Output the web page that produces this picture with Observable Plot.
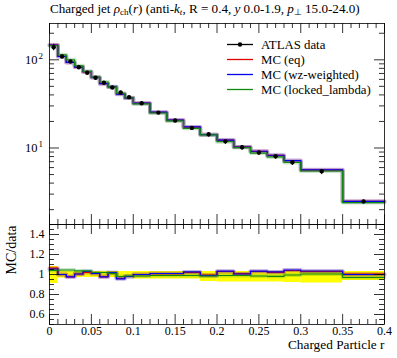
<!DOCTYPE html>
<html><head><meta charset="utf-8">
<script src="https://cdn.jsdelivr.net/npm/d3@7"></script>
<script src="https://cdn.jsdelivr.net/npm/@observablehq/plot@0.6"></script>
<style>
body{margin:0;background:#fff;}
#wrap{position:relative;width:397px;height:358px;font-family:"Liberation Serif",serif;color:#000;overflow:hidden}
#wrap > svg, #wrap > div.plotbox{position:absolute;left:0}
.title{position:absolute;left:50px;top:1px;font-size:13.1px;white-space:nowrap;line-height:16px}
.title sub{font-size:9px;vertical-align:-2px;line-height:0}
</style></head><body><div id="wrap"></div><script>
// ---- data ----
const edges = [0,0.01,0.02,0.03,0.04,0.05,0.06,0.07,0.08,0.09,0.1,0.12,0.14,0.16,0.18,0.2,0.22,0.24,0.26,0.28,0.3,0.35,0.4];
const atlasData = [139,109,95.7,82.4,71.3,62.5,54.9,48.5,42.6,37.7,32.2,25.2,20.5,16.9,14.3,11.9,10.2,8.89,8.07,6.90,5.46,2.48];
const bandLo = [0.91,0.965,0.97,0.97,0.97,0.97,0.97,0.97,0.97,0.97,0.955,0.955,0.955,0.955,0.93,0.925,0.925,0.925,0.925,0.92,0.915,0.94];
const bandHi = [1.08,1.035,1.03,1.03,1.03,1.03,1.03,1.03,1.03,1.03,1.03,1.03,1.03,1.03,1.03,1.03,1.03,1.03,1.03,1.035,1.035,1.03];
const ratioEq = [1.064,1.0,0.977,1.005,1.02,1.01,0.977,1.015,0.962,0.98,1.0,1.008,1.008,1.02,0.995,1.03,1.008,1.03,1.022,1.04,1.03,1.003];
const ratioWz = [1.055,1.0,0.977,1.005,1.03,1.01,0.977,1.02,0.957,0.98,1.0,1.01,1.01,1.026,0.99,1.033,1.005,1.033,1.026,1.045,1.035,1.0];
const ratioLocked = [1.04,1.045,1.045,1.036,1.036,1.02,1.02,1.012,0.98,0.985,0.985,0.99,0.99,0.99,0.985,0.99,0.99,0.985,0.982,0.995,1.005,0.97];
const seriesNames = ["MC (eq)","MC (wz-weighted)","MC (locked_lambda)"];
const seriesColors = ["#e00000","#0000ee","#108a10"];
const xMajor = [0,0.05,0.1,0.15,0.2,0.25,0.3,0.35,0.4];
const xMinor = [0.01,0.02,0.03,0.04,0.06,0.07,0.08,0.09,0.11,0.12,0.13,0.14,0.16,0.17,0.18,0.19,0.21,0.22,0.23,0.24,0.26,0.27,0.28,0.29,0.31,0.32,0.33,0.34,0.36,0.37,0.38,0.39];
const xLabels = ["0","0.05","0.1","0.15","0.2","0.25","0.3","0.35","0.4"];
const yMainMajor = [10,100];
const yMainExp = ["1","2"];
const yMainMinor = [2,3,4,5,6,7,8,9,20,30,40,50,60,70,80,90,200];
const yRatioMajor = [0.6,0.8,1.0,1.2,1.4];
const yRatioLabels = ["0.6","0.8","1","1.2","1.4"];
const yRatioMinor = [0.5,0.55,0.65,0.7,0.75,0.85,0.9,0.95,1.05,1.1,1.15,1.25,1.3,1.35,1.45,1.5];

// ---- layout ----
const W=397, ML=49, MR=13, FW=W-ML-MR;
const mainH=224, mainTop=23, mainFH=mainH-mainTop;
const ratH=134, ratBottom=34, ratFH=ratH-ratBottom;
const FONT="Liberation Serif";

const idx = atlasData.map((_,i)=>i);
const centers = idx.map(i=>(edges[i]+edges[i+1])/2);
const ratios = [ratioEq, ratioWz, ratioLocked];
function steps(vals){ return edges.map((e,i)=>({x:e, y: vals[Math.min(i, vals.length-1)]})); }
const mcMain = ratios.map(r => r.map((v,i)=>v*atlasData[i]));

function tickMarks(FH, yMaj, yMin){
  const m=[];
  for (const [arr,len] of [[xMajor,10],[xMinor,5]]) {
    m.push(Plot.tickX(arr,{x:d=>d, insetTop:FH-len, stroke:"#000", strokeWidth:0.8}));
    m.push(Plot.tickX(arr,{x:d=>d, insetBottom:FH-len, stroke:"#000", strokeWidth:0.8}));
  }
  for (const [arr,len] of [[yMaj,10],[yMin,5]]) {
    m.push(Plot.tickY(arr,{y:d=>d, insetRight:FW-len, stroke:"#000", strokeWidth:0.8}));
    m.push(Plot.tickY(arr,{y:d=>d, insetLeft:FW-len, stroke:"#000", strokeWidth:0.8}));
  }
  return m;
}
function mcLines(arrs){
  const m=[];
  arrs.forEach((vals,k)=>{
    m.push(Plot.line(steps(vals),{x:"x",y:"y",curve:"step-after",stroke:seriesColors[k],strokeWidth:4,strokeOpacity:0.22}));
  });
  arrs.forEach((vals,k)=>{
    m.push(Plot.line(steps(vals),{x:"x",y:"y",curve:"step-after",stroke:seriesColors[k],strokeWidth:1.2}));
  });
  return m;
}

const main = Plot.plot({
  width:W, height:mainH, marginLeft:ML, marginRight:MR, marginTop:mainTop, marginBottom:0,
  style:{fontFamily:FONT, fontSize:"11px", background:"transparent", overflow:"visible"},
  x:{domain:[0,0.4], axis:null},
  y:{type:"log", domain:[1.357,258], axis:null},
  marks:[
    ...mcLines(mcMain),
    Plot.ruleX(idx,{x:i=>centers[i], y1:i=>atlasData[i]*bandLo[i], y2:i=>atlasData[i]*bandHi[i], stroke:"#000", strokeWidth:1}),
    Plot.dot(idx,{x:i=>centers[i], y:i=>atlasData[i], r:2.2, fill:"#000", stroke:"none"}),
    Plot.frame({stroke:"#000", strokeWidth:0.8}),
    ...tickMarks(mainFH, yMainMajor, yMainMinor),
    Plot.text(yMainMajor,{y:d=>d, frameAnchor:"left", dx:-12, textAnchor:"end", text:()=>"10", fontSize:12.5}),
    Plot.text(yMainMajor,{y:d=>d, frameAnchor:"left", dx:-11, dy:-4, textAnchor:"start", text:(d,i)=>yMainExp[i], fontSize:9})
  ]
});
main.style.top="0px";

const ratio = Plot.plot({
  width:W, height:ratH, marginLeft:ML, marginRight:MR, marginTop:0, marginBottom:ratBottom,
  style:{fontFamily:FONT, fontSize:"11px", background:"transparent", overflow:"visible"},
  x:{domain:[0,0.4], axis:null},
  y:{domain:[0.5,1.5], axis:null},
  marks:[
    Plot.rect(idx,{x1:i=>edges[i], x2:i=>edges[i+1], y1:i=>bandLo[i], y2:i=>bandHi[i], fill:"#ffff00"}),
    ...mcLines(ratios),
    Plot.frame({stroke:"#000", strokeWidth:0.8}),
    ...tickMarks(ratFH, yRatioMajor, yRatioMinor),
    Plot.text(yRatioMajor,{y:d=>d, frameAnchor:"left", dx:-5, textAnchor:"end", text:(d,i)=>yRatioLabels[i], fontSize:12}),
    Plot.text(xMajor,{x:d=>d, frameAnchor:"bottom", dy:10, text:(d,i)=>xLabels[i], fontSize:12}),
    Plot.text(["Charged Particle r"],{frameAnchor:"bottom-right", dy:24, textAnchor:"end", text:d=>d, fontSize:13.3}),
    Plot.text(["MC/data"],{frameAnchor:"left", dx:-38, rotate:-90, text:d=>d, fontSize:14})
  ]
});
ratio.style.top=mainH+"px";

const wrap=document.getElementById("wrap");
const title=document.createElement("div");
title.className="title";
title.innerHTML='Charged jet <i>ρ</i><sub>ch</sub>(<i>r</i>) (anti-<i>k<sub>t</sub></i>, R = 0.4, <i>y</i> 0.0-1.9, <i>p</i><sub>⊥</sub> 15.0-24.0)';
wrap.appendChild(title);
wrap.appendChild(main);
wrap.appendChild(ratio);

// legend
const ns="http://www.w3.org/2000/svg";
const leg=document.createElementNS(ns,"svg");
leg.setAttribute("width",W); leg.setAttribute("height",mainH);
leg.style.position="absolute"; leg.style.left="0"; leg.style.top="0";
const rows=[{name:"ATLAS data",color:"#000",dot:true}].concat(seriesNames.map((n,k)=>({name:n,color:seriesColors[k]})));
rows.forEach((r,k)=>{
  const y=44.5+k*15;
  const ln=document.createElementNS(ns,"line");
  ln.setAttribute("x1",227); ln.setAttribute("x2",253); ln.setAttribute("y1",y); ln.setAttribute("y2",y);
  ln.setAttribute("stroke",r.color); ln.setAttribute("stroke-width",1.3);
  leg.appendChild(ln);
  if(r.dot){const c=document.createElementNS(ns,"circle");c.setAttribute("cx",240);c.setAttribute("cy",y);c.setAttribute("r",2.2);leg.appendChild(c);}
  const t=document.createElementNS(ns,"text");
  t.setAttribute("x",261); t.setAttribute("y",y+4); t.setAttribute("font-size","12.8px");
  t.setAttribute("font-family",FONT);
  t.textContent=r.name; leg.appendChild(t);
});
wrap.appendChild(leg);
</script></body></html>
